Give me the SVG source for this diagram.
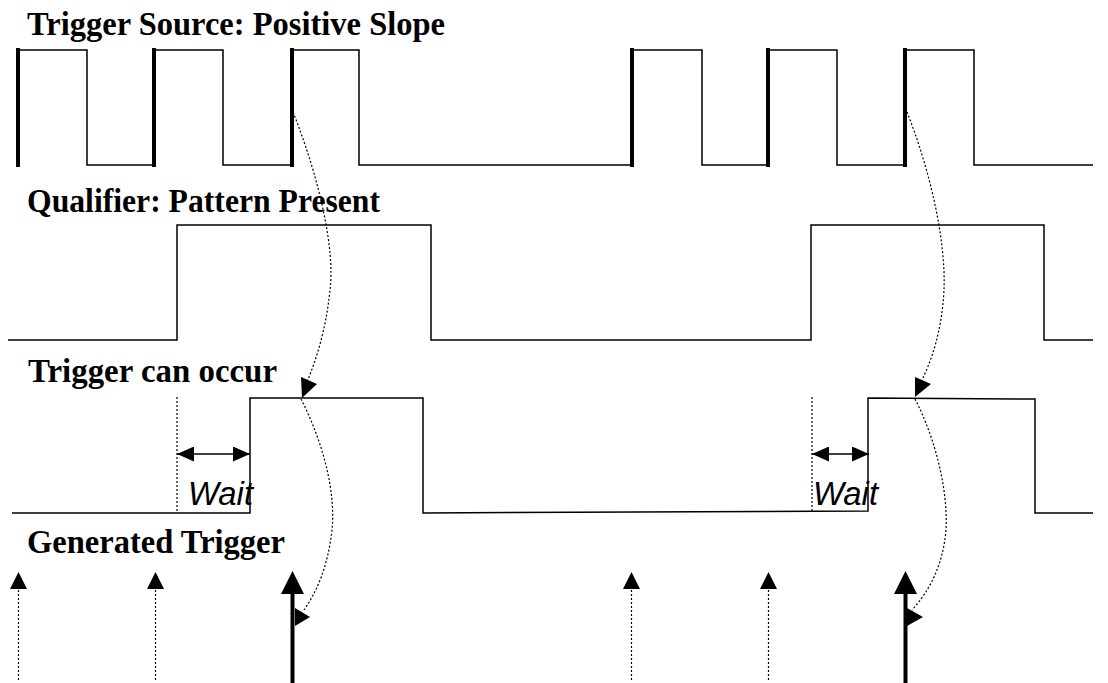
<svg xmlns="http://www.w3.org/2000/svg" width="1108" height="683" viewBox="0 0 1108 683">
<style>
.title{font-family:"Liberation Serif","Times New Roman",serif;font-weight:bold;font-size:34px;fill:#000}
.wait{font-family:"Liberation Sans",Arial,sans-serif;font-style:italic;font-size:33px;fill:#000}
.wave{fill:none;stroke:#000;stroke-width:1.5}
.edge{stroke:#000;stroke-width:4}
.dot{fill:none;stroke:#000;stroke-width:1.2;stroke-dasharray:2 2}
.head{fill:#000}
</style>
<defs>
<marker id="ah" markerWidth="17" markerHeight="15" refX="17" refY="7.5" orient="auto-start-reverse" markerUnits="userSpaceOnUse" viewBox="0 0 17 15">
<path d="M0,0 L17,7.5 L0,15 Z" fill="#000"/>
</marker>
</defs>
<rect width="1108" height="683" fill="#fff"/>

<g id="trigger-source">
<text class="title" x="27" y="35" textLength="418" lengthAdjust="spacingAndGlyphs">Trigger Source: Positive Slope</text>
<polyline class="wave" points="18,50 87,50 87,165 154,165 154,50 223,50 223,165 292,165 292,50 359,50 359,165 632,165 632,50 702,50 702,165 768,165 768,50 837,50 837,165 905,165 905,50 974,50 974,165 1093,165"/>
<line class="edge" x1="18" y1="48" x2="18" y2="167"/>
<line class="edge" x1="154" y1="48" x2="154" y2="167"/>
<line class="edge" x1="292" y1="48" x2="292" y2="167"/>
<line class="edge" x1="632" y1="48" x2="632" y2="167"/>
<line class="edge" x1="768" y1="48" x2="768" y2="167"/>
<line class="edge" x1="905" y1="48" x2="905" y2="167"/>
</g>

<g id="qualifier">
<text class="title" x="27" y="212" textLength="353" lengthAdjust="spacingAndGlyphs">Qualifier: Pattern Present</text>
<polyline class="wave" points="8,340 177,340 177,225 431,225 431,340 811,340 811,225 1044,225 1044,340 1093,340"/>
</g>

<g id="trigger-can-occur">
<text class="title" x="28" y="382" textLength="249" lengthAdjust="spacingAndGlyphs">Trigger can occur</text>
<polyline class="wave" points="12,513 250,513 250,398 423,398 423,513 868,511 868,398 1035,399 1035,513 1093,513"/>
<line class="dot" x1="177" y1="397" x2="177" y2="511"/>
<line class="dot" x1="812" y1="397" x2="812" y2="511"/>
<line x1="177" y1="454" x2="250" y2="454" stroke="#000" stroke-width="1.3" marker-start="url(#ah)" marker-end="url(#ah)"/>
<line x1="812" y1="454" x2="869" y2="454" stroke="#000" stroke-width="1.3" marker-start="url(#ah)" marker-end="url(#ah)"/>
<text class="wait" x="188" y="505" textLength="65" lengthAdjust="spacingAndGlyphs">Wait</text>
<text class="wait" x="813" y="505" textLength="65" lengthAdjust="spacingAndGlyphs">Wait</text>
</g>

<g id="generated-trigger">
<text class="title" x="27" y="553" textLength="258" lengthAdjust="spacingAndGlyphs">Generated Trigger</text>
<line class="dot" x1="18.5" y1="590" x2="18.5" y2="680"/>
<polygon class="head" points="18.5,572 27,589 10,589"/>
<line class="dot" x1="155.5" y1="590" x2="155.5" y2="680"/>
<polygon class="head" points="155.5,572 164,589 147,589"/>
<line class="dot" x1="631.5" y1="590" x2="631.5" y2="680"/>
<polygon class="head" points="631.5,572 640,589 623,589"/>
<line class="dot" x1="768.5" y1="590" x2="768.5" y2="680"/>
<polygon class="head" points="768.5,572 777,589 760,589"/>
<line class="edge" x1="292.5" y1="592" x2="292.5" y2="683"/>
<polygon class="head" points="292.5,571 304,594 281,594"/>
<line class="edge" x1="905.5" y1="592" x2="905.5" y2="683"/>
<polygon class="head" points="905.5,571 917,594 894,594"/>
</g>

<g id="connectors">
<path class="dot" d="M293,112 C320,180 335,250 330,290 C326,330 316,360 307,382"/>
<polygon class="head" points="301,377 317,384 302,398"/>
<path class="dot" d="M301,399 C322,440 336,490 332,530 C328,565 318,590 304,610"/>
<polygon class="head" points="295,608 310,617 295,626"/>
<path class="dot" d="M907,112 C930,170 946,240 944,290 C942,330 932,360 921,382"/>
<polygon class="head" points="915,377 931,384 915,397"/>
<path class="dot" d="M915,399 C936,440 948,490 946,530 C943,565 930,590 912,610"/>
<polygon class="head" points="907,608 923,617 907,626"/>
</g>
</svg>
